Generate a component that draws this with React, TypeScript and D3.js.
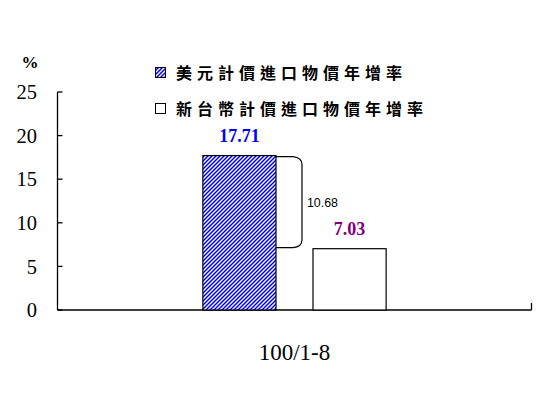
import React from 'react';
import * as d3 from 'd3';

const categories = ['100/1-8'];
const seriesNames = ['美元計價進口物價年增率', '新台幣計價進口物價年增率'];
const usdValues = [17.71];
const twdValues = [7.03];
const yTicks = [0, 5, 10, 15, 20, 25];
const valueColors = ['#0000ff', '#800080'];

const width = 552;
const height = 411;
const margin = { top: 92, right: 20.5, bottom: 101, left: 57.5 };

const App: React.FC = () => {
  const xScale = d3.scaleBand<string>()
    .domain(categories)
    .range([margin.left, width - margin.right]);

  const xSub = d3.scaleBand<string>()
    .domain(seriesNames)
    .range([0, xScale.bandwidth()])
    .paddingInner(0.336)
    .paddingOuter(1.32);

  const yScale = d3.scaleLinear()
    .domain([0, 25])
    .range([height - margin.bottom, margin.top]);

  const y0 = yScale(0);
  const serif = '"Liberation Serif", "Times New Roman", serif';

  const series = [usdValues, twdValues];

  return (
    <svg width={width} height={height} style={{ position: 'absolute', left: 0, top: 0, background: '#fff' }}>
      <defs>
        <pattern id="hatch" patternUnits="userSpaceOnUse" width={4} height={4}>
          <rect width={4} height={4} fill="#fff" />
          <path d="M-1,1 l2,-2 M0,4 l4,-4 M3,5 l2,-2" stroke="#0000ff" strokeWidth={1.5} />
        </pattern>
      </defs>

      {/* y axis */}
      <line x1={margin.left} x2={margin.left} y1={yScale(25)} y2={y0} stroke="#000" strokeWidth={1.3} />
      {yTicks.map(t => (
        <g key={t}>
          <line x1={margin.left} x2={margin.left + 5} y1={yScale(t)} y2={yScale(t)} stroke="#000" strokeWidth={1.3} />
          <text x={37} y={yScale(t)} dy="0.35em" textAnchor="end" fontFamily={serif} fontSize={20.5}>{t}</text>
        </g>
      ))}
      <text x={30} y={68} textAnchor="middle" fontFamily={serif} fontSize={17} fontWeight="bold">%</text>

      {/* x axis */}
      <line x1={margin.left} x2={width - margin.right} y1={y0} y2={y0} stroke="#000" strokeWidth={1.3} />
      {categories.map(c => (
        <line key={c} x1={(xScale(c) || 0) + xScale.bandwidth()} x2={(xScale(c) || 0) + xScale.bandwidth()}
          y1={y0} y2={y0 - 7} stroke="#000" strokeWidth={1.3} />
      ))}
      {categories.map(c => (
        <text key={c} x={(xScale(c) || 0) + xScale.bandwidth() / 2} y={360} textAnchor="middle"
          fontFamily={serif} fontSize={23}>{c}</text>
      ))}

      {/* bars */}
      {categories.map((c, ci) => (
        <g key={c}>
          {seriesNames.map((s, si) => {
            const v = series[si][ci];
            const x = (xScale(c) || 0) + (xSub(s) || 0);
            return (
              <g key={s}>
                <rect x={x} y={yScale(v)} width={xSub.bandwidth()} height={y0 - yScale(v)}
                  fill={si === 0 ? 'url(#hatch)' : '#fff'} stroke="#000" strokeWidth={1.2} />
                <text x={x + xSub.bandwidth() / 2} y={yScale(v) - 13.5} textAnchor="middle"
                  fontFamily={serif} fontWeight="bold" fontSize={18} fill={valueColors[si]}>
                  {v.toFixed(2)}
                </text>
              </g>
            );
          })}
          {(() => {
            const xr = (xScale(c) || 0) + (xSub(seriesNames[0]) || 0) + xSub.bandwidth();
            const yt = yScale(usdValues[ci]) + 1;
            const yb = yScale(twdValues[ci]) - 1;
            const bx = xr + 26;
            const p = d3.path();
            p.moveTo(xr, yt);
            p.lineTo(bx - 9, yt);
            p.quadraticCurveTo(bx, yt + 1, bx, yt + 8);
            p.lineTo(bx, yb - 8);
            p.quadraticCurveTo(bx, yb - 1, bx - 9, yb);
            p.lineTo(xr, yb);
            return (
              <g>
                <path d={p.toString()} fill="none" stroke="#000" strokeWidth={1.2} />
                <text x={bx + 5} y={(yt + yb) / 2} dy="0.35em"
                  fontFamily='"Liberation Sans Narrow", "Arial Narrow", sans-serif' fontSize={13}
                  textLength={31} lengthAdjust="spacingAndGlyphs">
                  {(usdValues[ci] - twdValues[ci]).toFixed(2)}
                </text>
              </g>
            );
          })()}
        </g>
      ))}

      {/* legend */}
      {seriesNames.map((s, si) => (
        <g key={s} transform={`translate(155,${67 + si * 36})`}>
          <rect x={0.5} y={0.5} width={10} height={10} fill={si === 0 ? 'url(#hatch)' : '#fff'} stroke="#000" strokeWidth={1} />
          <text x={21} y={6} dy="0.35em" fontFamily='"Noto Sans CJK TC", sans-serif' fontWeight="bold"
            fontSize={16} letterSpacing={5}>{s}</text>
        </g>
      ))}
    </svg>
  );
};

export default App;
